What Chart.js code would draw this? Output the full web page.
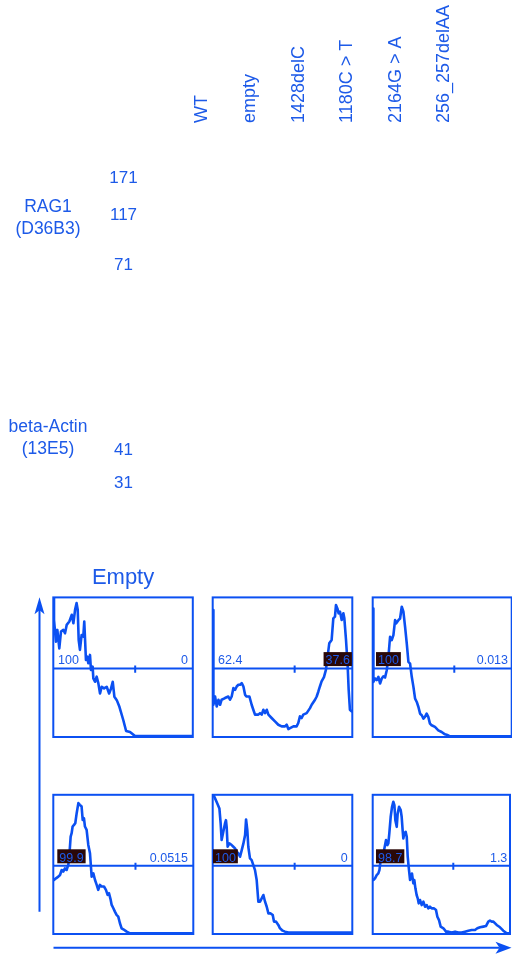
<!DOCTYPE html>
<html>
<head>
<meta charset="utf-8">
<script src="https://cdn.jsdelivr.net/npm/chart.js@4.4.1/dist/chart.umd.min.js"></script>
<style>
  html, body { margin: 0; padding: 0; background: #fff; overflow: hidden; }
  #page { position: relative; width: 512px; height: 960px; overflow: hidden; background: #fff; }
  #page canvas { position: absolute; }
</style>
</head>
<body>
<div id="page"></div>
<script>
// ---- Immunoblot layout: lanes, size markers (kDa) and antibodies ----
const lanes = ['WT', 'empty', '1428delC', '1180C > T', '2164G > A', '256_257delAA'];
const ragMarkers = [171, 117, 71];
const actinMarkers = [41, 31];
const ragName = ['RAG1', '(D36B3)'];
const actinName = ['beta-Actin', '(13E5)'];

// ---- Flow histograms: x = fluorescence (% of axis), y = count (% of mode) ----
const hist1X = [0.5,0.5,1.9,2.9,4.3,5.5,7.2,8.4,9.6,11.5,13.2,14.4,15.6,16.7,17.5,18.2,19.1,20.3,21.5,22.2,23.4,24.4,25.1,26.3,27.0,28.2,28.7,29.9,31.1,32.3,33.5,34.7,36.4,38.3,40.0,41.4,42.6,43.8,45.5,47.4,50.2,52.2,55.0,58.6,100];
const hist1Y = [99.5,83.9,68.3,76.7,63.5,75.5,76.7,74.3,80.3,82.7,87.5,81.5,91.1,95.9,91.1,69.5,62.4,73.1,71.9,82.7,55.2,57.6,52.8,58.8,48.0,50.4,42.0,39.6,43.2,38.4,31.2,36.0,34.8,36.0,31.2,34.8,39.6,28.8,26.4,21.6,12.0,4.3,3.6,0.7,0.7];

const hist2X = [0.5,0.5,1.7,2.9,4.1,5.3,6.4,8.8,11.2,12.4,13.6,14.8,16.0,17.2,18.4,19.6,20.8,22.0,23.2,24.3,26.3,27.9,29.1,30.3,32.7,33.9,35.1,36.3,37.5,38.7,39.9,42.2,44.6,47.0,49.4,51.8,53.0,54.2,55.4,57.8,60.1,61.3,62.5,63.7,64.9,67.3,69.7,70.9,73.3,74.5,75.7,76.8,78.0,79.7,81.1,82.3,83.5,85.2,86.4,87.6,88.3,89.3,90.2,91.2,92.4,93.6,94.3,95.5,96.7,97.4,98.3,99.5];
const hist2Y = [91.0,23.1,29.0,21.9,26.7,23.1,26.7,27.9,29.0,26.7,29.0,35.0,33.8,36.2,37.4,37.4,38.6,36.2,30.2,29.0,29.0,23.1,19.5,16.0,16.0,17.1,16.0,19.5,17.1,19.5,16.0,13.6,11.2,8.8,7.6,7.6,8.8,5.7,6.4,7.6,7.6,10.0,14.8,13.6,16.0,17.1,20.7,23.1,26.7,29.0,32.6,36.2,39.8,42.9,48.1,57.6,67.1,69.5,85.0,86.2,94.5,92.1,88.6,89.8,83.8,88.6,85.0,69.5,50.5,33.8,19.5,18.3];

const hist3X = [0.5,0.5,1.7,2.9,4.1,5.3,6.5,7.7,8.9,10.1,11.3,12.5,13.7,14.9,16.1,16.8,18.5,19.7,20.9,22.1,23.3,24.5,25.7,26.9,28.1,29.3,30.5,31.7,32.9,34.1,35.3,36.5,37.6,38.8,40.0,41.2,42.4,44.8,47.2,49.6,52.0,53.7,55.6,100];
const hist3Y = [92.1,39.5,41.9,40.7,43.1,38.3,41.9,43.5,42.6,47.8,57.4,71.8,69.4,73.0,83.7,81.3,83.7,84.9,93.3,89.7,78.9,67.0,53.8,52.6,43.1,35.9,27.5,25.1,21.5,16.7,15.6,13.2,14.4,16.7,14.4,9.6,8.4,7.2,4.8,3.6,1.9,1.4,0.5,0.5];

const hist4X = [0.5,1.9,3.6,4.8,6.0,7.1,8.3,9.5,10.7,11.4,12.4,13.1,13.8,14.8,15.7,16.7,17.9,19.0,20.2,21.0,21.9,22.6,23.8,25.0,26.2,27.4,28.6,29.8,31.0,32.1,33.3,34.5,36.2,37.6,38.8,39.8,41.0,41.7,42.9,44.0,45.2,46.4,47.6,48.8,50.0,52.4,54.8,100];
const hist4Y = [38.8,40.0,41.2,42.4,46.0,44.8,47.2,46.0,49.6,55.6,70.0,72.4,77.2,78.4,79.6,86.8,94.0,92.8,91.6,82.0,83.2,77.2,74.8,64.0,58.0,41.2,43.6,38.8,35.3,31.7,35.3,34.1,34.1,31.7,28.1,29.3,24.5,20.9,18.5,16.1,13.7,12.5,7.7,4.1,3.4,1.7,0.5,0.5];

const hist5X = [0.5,1.7,3.3,4.8,5.7,6.4,7.6,8.8,9.5,10.0,10.7,11.9,13.6,14.8,16.0,17.2,18.4,19.6,20.8,22.0,23.2,23.9,24.8,25.5,26.7,27.9,29.1,30.3,31.5,32.7,33.9,35.1,36.3,37.5,38.7,39.9,41.5,43.0,43.9,45.3,47.0,48.2,50.1,51.8,54.2,100];
const hist5Y = [100,97.4,93.8,90.2,79.4,67.5,73.4,79.4,81.8,77.0,62.7,65.1,63.9,62.7,61.5,59.1,57.9,55.5,60.3,65.1,71.1,82.3,74.6,62.7,54.3,53.1,49.5,45.9,38.8,23.2,23.2,25.6,28.0,23.2,19.6,14.8,14.8,13.6,8.9,8.9,6.5,4.1,2.4,1.7,1.0,1.0];

const hist6X = [0.5,1.7,2.9,4.1,4.9,5.8,7.3,8.3,9.7,10.7,11.4,12.1,13.1,14.1,15.0,15.8,16.5,17.5,18.2,19.2,20.4,21.1,21.8,22.3,23.1,24.0,24.8,25.5,26.2,27.2,27.9,28.6,29.6,30.3,31.1,32.0,32.8,33.5,34.5,35.7,36.9,38.1,39.3,40.5,41.7,43.0,44.7,46.1,47.1,48.3,49.5,51.5,53.4,55.1,57.5,60.0,62.4,64.8,67.2,69.7,72.1,74.5,76.2,78.2,80.6,82.5,84.2,85.4,86.7,87.9,90.3,92.7,95.1,97.6,100];
const hist6Y = [38.8,40.0,42.3,43.5,45.9,53.1,56.7,60.3,67.5,63.9,65.1,72.2,84.2,91.4,95.0,92.6,81.8,77.0,86.6,91.4,89.0,84.2,74.6,68.7,72.2,73.4,69.9,55.5,48.3,38.8,41.1,43.5,36.4,38.8,32.8,28.0,25.6,22.0,24.4,20.8,23.2,19.6,20.8,18.4,19.6,18.4,18.4,17.2,12.4,10.0,5.3,4.1,1.7,1.7,1.0,1.7,1.0,1.0,1.7,2.4,2.9,2.9,4.1,4.8,5.3,5.7,8.9,9.6,8.9,8.9,6.5,4.8,2.4,0.5,0.5];

// Gate statistics (percent of events left / right of the divider)
const leftPct  = ['100', '62.4', '100', '99.9', '100', '98.7'];
const rightPct = ['0', '37.6', '0.013', '0.0515', '0', '1.3'];
const boxedSide = ['', 'right', 'left', 'left', 'left', 'left'];
const gateLevel = 49;    // height of the gate bar (y units)
const gateSplit = 58.7;  // divider position (x units)
const firstPanelTitle = 'Empty';

// ---- styling ----
const FONT = '"Liberation Sans", Arial, Helvetica, sans-serif';
const LINE = '#0b50f2';
const INK = '#1d5ae8';
const BOX_BG = '#2a0808';
Chart.defaults.font.family = FONT;
Chart.defaults.color = INK;

const page = document.getElementById('page');
function makeCanvas(left, top, w, h) {
  const c = document.createElement('canvas');
  c.width = w; c.height = h;
  c.style.left = left + 'px'; c.style.top = top + 'px';
  c.style.width = w + 'px'; c.style.height = h + 'px';
  page.appendChild(c);
  return c;
}
const measureCtx = document.createElement('canvas').getContext('2d');
function textWidth(t, size) {
  measureCtx.font = size + 'px ' + FONT;
  return measureCtx.measureText(t).width;
}
const quiet = { legend: { display: false }, tooltip: { enabled: false } };
const noGrid = { display: false, drawTicks: false };

// ---- lane header ----
new Chart(makeCanvas(0, 0, 512, 132), {
  type: 'scatter',
  data: { labels: lanes, datasets: [] },
  options: {
    responsive: false, animation: false, events: [],
    layout: { padding: { left: 223.4, right: 46.4, top: 0, bottom: 0 } },
    plugins: quiet,
    scales: {
      x: {
        type: 'category', position: 'top', offset: false,
        grid: noGrid, border: { display: false },
        ticks: { autoSkip: false, minRotation: 90, maxRotation: 90, padding: 1, font: { size: 18 }, color: INK },
        afterFit: s => { s.height = 124; }
      },
      y: { display: false }
    }
  }
});

// ---- marker / antibody axes for each blot ----
function flatVertical(s, width) {
  s.width = width;
  s.paddingTop = 0;
  s.paddingBottom = 0;
}
function blotAxes(top, height, padTop, padBottom, min, max, markers, name) {
  const nameW = 96, mwRight = 146, nameCenter = 48, mwCenter = 123.5;
  const nameWidest = Math.max(...name.map(t => textWidth(t, 17.5)));
  const mwWidest = Math.max(...markers.map(v => textWidth(String(v), 17)));
  new Chart(makeCanvas(0, top, 150, height), {
    type: 'scatter',
    data: { datasets: [] },
    options: {
      responsive: false, animation: false, events: [],
      layout: { padding: { left: 0, right: 0, top: padTop, bottom: padBottom } },
      plugins: quiet,
      scales: {
        x: { display: false },
        name: {
          type: 'category', axis: 'y', position: 'left', weight: 2, offset: true,
          labels: [name],
          grid: noGrid, border: { display: false },
          ticks: { crossAlign: 'center', padding: nameW - nameCenter - nameWidest / 2,
                   font: { size: 17.5, lineHeight: 1.25 }, color: INK },
          afterFit: s => flatVertical(s, nameW)
        },
        y: {
          type: 'logarithmic', position: 'left', weight: 1, min: min, max: max,
          grid: noGrid, border: { display: false },
          afterBuildTicks: s => { s.ticks = markers.map(v => ({ value: v })); },
          ticks: { autoSkip: false, crossAlign: 'center', padding: mwRight - mwCenter - mwWidest / 2,
                   font: { size: 17 }, color: INK, callback: v => String(v) },
          afterFit: s => flatVertical(s, mwRight - nameW)
        }
      }
    }
  });
}
blotAxes(140, 156, 0.4, 0.2, 52, 250, ragMarkers, ragName);
blotAxes(371, 136, 0.1, 0.9, 25.5, 80, actinMarkers, actinName);

// ---- axis arrows under the histogram grid ----
const arrowPlugin = {
  id: 'axisArrows',
  afterDraw(chart) {
    const { ctx, chartArea: a } = chart;
    ctx.save();
    ctx.strokeStyle = LINE; ctx.fillStyle = LINE; ctx.lineWidth = 2;
    // vertical (count) arrow
    ctx.beginPath(); ctx.moveTo(a.left, a.bottom - 36); ctx.lineTo(a.left, a.top + 12); ctx.stroke();
    ctx.beginPath();
    ctx.moveTo(a.left, a.top); ctx.lineTo(a.left - 5, a.top + 17); ctx.lineTo(a.left, a.top + 13);
    ctx.lineTo(a.left + 5, a.top + 17); ctx.closePath(); ctx.fill();
    // horizontal (fluorescence) arrow
    ctx.beginPath(); ctx.moveTo(a.left + 14, a.bottom); ctx.lineTo(a.right - 12, a.bottom); ctx.stroke();
    ctx.beginPath();
    ctx.moveTo(a.right, a.bottom); ctx.lineTo(a.right - 16, a.bottom - 6); ctx.lineTo(a.right - 12, a.bottom);
    ctx.lineTo(a.right - 16, a.bottom + 6); ctx.closePath(); ctx.fill();
    ctx.restore();
  }
};
new Chart(makeCanvas(0, 580, 512, 380), {
  type: 'scatter',
  data: { datasets: [] },
  options: {
    responsive: false, animation: false, events: [],
    layout: { padding: { left: 39.5, right: 0.5, top: 17.3, bottom: 12.3 } },
    plugins: quiet,
    scales: { x: { display: false, min: 0, max: 1 }, y: { display: false, min: 0, max: 1 } }
  },
  plugins: [arrowPlugin]
});

// ---- histogram panels ----
const histX = [hist1X, hist2X, hist3X, hist4X, hist5X, hist6X];
const histY = [hist1Y, hist2Y, hist3Y, hist4Y, hist5Y, hist6Y];
// frame of each panel on the page: left, top, width, height
const frames = [
  [53.3, 597.4, 139.5, 139.6], [212.7, 597.4, 139.6, 139.6], [372.7, 597.4, 139.0, 139.6],
  [53.3, 794.8, 140.0, 139.2], [212.7, 794.8, 139.6, 139.2], [372.7, 794.8, 137.3, 139.2]
];
const leftInset = [2.7, 3.3, 3.3, 4.0, 0.3, 3.3];
const rightInset = [2.8, 0.4, 1.7, 3.3, 2.6, 0.7];

const framePlugin = {
  id: 'panelFrame',
  beforeDatasetsDraw(chart) {
    const { ctx, chartArea: a } = chart;
    ctx.save();
    ctx.strokeStyle = LINE; ctx.lineWidth = 2;
    ctx.strokeRect(a.left, a.top, a.right - a.left, a.bottom - a.top);
    ctx.restore();
  },
  afterDatasetsDraw(chart, args, opts) {
    const { ctx, chartArea: a } = chart;
    const i = opts.index;
    const yPix = chart.scales.y.getPixelForValue(gateLevel);
    ctx.save();
    ctx.font = '12.5px ' + FONT;
    ctx.textBaseline = 'alphabetic';
    const base = yPix - 4.2;
    const items = [
      { text: leftPct[i], side: 'left', x: a.left + leftInset[i] + 2, align: 'left' },
      { text: rightPct[i], side: 'right', x: a.right - rightInset[i] - 2, align: 'right' }
    ];
    items.forEach(it => {
      const w = ctx.measureText(it.text).width;
      const x0 = it.align === 'left' ? it.x : it.x - w;
      if (boxedSide[i] === it.side) {
        ctx.fillStyle = BOX_BG;
        ctx.fillRect(x0 - 2, yPix - 16.5, w + 4, 14);
      }
      ctx.fillStyle = INK;
      ctx.textAlign = 'left';
      ctx.fillText(it.text, x0, base);
    });
    ctx.restore();
  }
};

const PAD = 4;
frames.forEach((f, i) => {
  const [left, top, w, h] = f;
  const withTitle = i === 0;
  const titleBlock = withTitle ? 32.6 : 0;   // title line + gap above the frame
  const cLeft = Math.floor(left) - PAD;
  const cTop = Math.floor(top - titleBlock) - PAD;
  const cW = Math.ceil(left + w) + PAD - cLeft;
  const cH = Math.ceil(top + h) + PAD - cTop;
  const padTop = top - cTop - titleBlock;
  new Chart(makeCanvas(cLeft, cTop, cW, cH), {
    type: 'scatter',
    data: {
      datasets: [
        { data: histX[i].map((x, k) => ({ x: x, y: histY[i][k] })), showLine: true,
          borderColor: LINE, borderWidth: 2.6, pointRadius: 0, borderJoinStyle: 'round', borderCapStyle: 'round' },
        { data: [{ x: 0, y: gateLevel }, { x: 100, y: gateLevel }], showLine: true,
          borderColor: LINE, borderWidth: 2, pointRadius: 0 },
        { data: [{ x: gateSplit, y: gateLevel + 2.2 }, { x: gateSplit, y: gateLevel - 2.9 }], showLine: true,
          borderColor: LINE, borderWidth: 2, pointRadius: 0 }
      ]
    },
    options: {
      responsive: false, animation: false, events: [],
      layout: { padding: { left: left - cLeft, right: cLeft + cW - (left + w), top: padTop, bottom: cTop + cH - (top + h) } },
      plugins: {
        legend: { display: false }, tooltip: { enabled: false },
        title: withTitle ? {
          display: true, text: firstPanelTitle, color: INK,
          font: { size: 22, weight: 'normal', lineHeight: 1.2 },
          padding: { top: 0, bottom: titleBlock - 26.4 }
        } : { display: false },
        panelFrame: { index: i }
      },
      scales: {
        x: { type: 'linear', min: 0, max: 100, display: false },
        y: { type: 'linear', min: 0, max: 100, display: false }
      }
    },
    plugins: [framePlugin]
  });
});
</script>
</body>
</html>
